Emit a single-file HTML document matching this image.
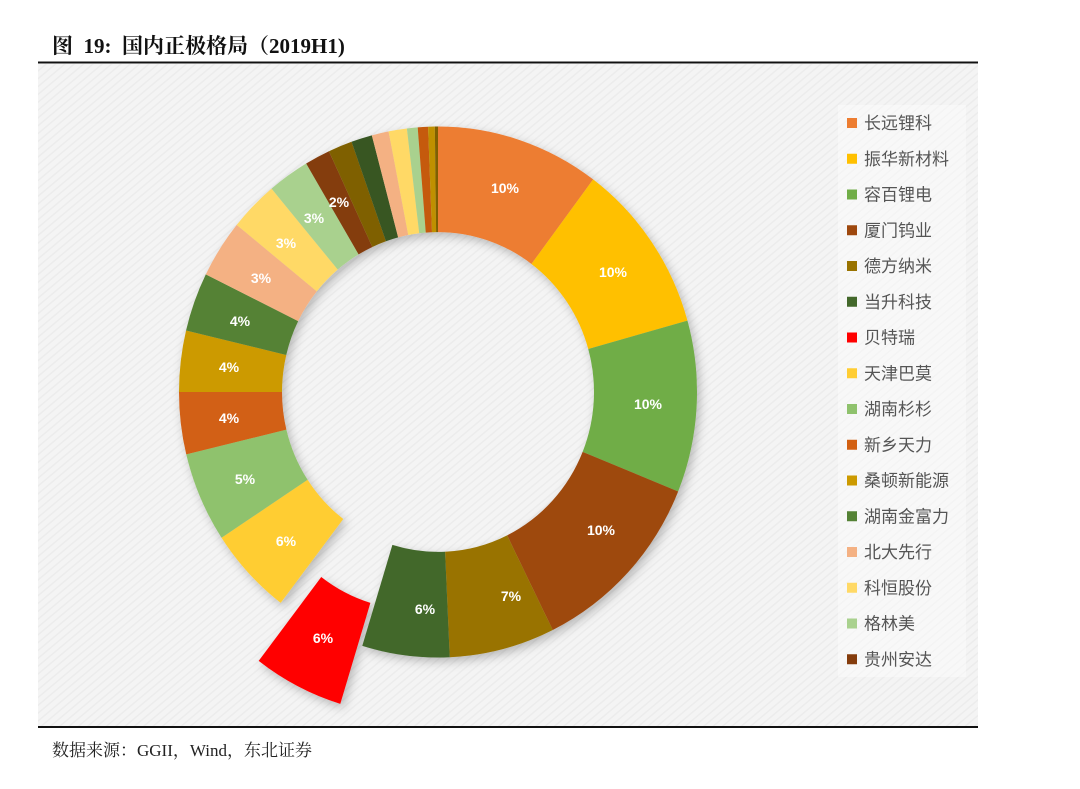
<!DOCTYPE html>
<html><head><meta charset="utf-8"><style>
body{margin:0;background:#fff;width:1080px;height:789px;overflow:hidden;position:relative;font-family:"Liberation Serif","Noto Serif CJK SC",serif}
.t{position:absolute;left:52px;top:30px;font-size:21px;font-weight:bold;color:#111;white-space:pre}
.s{position:absolute;left:52px;top:736px;font-size:17px;color:#222;white-space:pre}
svg{position:absolute;left:0;top:0}
</style></head><body>
<div class="t">图  19:  国内正极格局（2019H1)</div>
<svg width="1080" height="789" viewBox="0 0 1080 789">
<defs>
<pattern id="st" width="6" height="6" patternUnits="userSpaceOnUse" patternTransform="rotate(-40)">
<rect width="6" height="6" fill="#f4f4f4"/><rect width="6" height="1.5" fill="#ececec"/></pattern>
<filter id="sh" x="-20%" y="-20%" width="140%" height="140%"><feDropShadow dx="3" dy="4" stdDeviation="5" flood-opacity="0.25"/></filter>
</defs>
<line x1="38" y1="62.5" x2="978" y2="62.5" stroke="#111" stroke-width="2"/>
<rect x="38" y="64" width="940" height="662" fill="url(#st)"/>
<line x1="38" y1="727" x2="978" y2="727" stroke="#111" stroke-width="2"/>
<g id="donut" filter="url(#sh)"></g>
<g font-family="Liberation Sans,sans-serif" font-weight="bold" font-size="14" fill="#fff" text-anchor="middle">
<text x="505" y="193">10%</text><text x="613" y="277">10%</text><text x="648" y="409">10%</text>
<text x="601" y="535">10%</text><text x="511" y="601">7%</text><text x="425" y="614">6%</text>
<text x="323" y="643">6%</text><text x="286" y="546">6%</text><text x="245" y="484">5%</text>
<text x="229" y="423">4%</text><text x="229" y="372">4%</text><text x="240" y="326">4%</text>
<text x="261" y="283">3%</text><text x="286" y="248">3%</text><text x="314" y="223">3%</text><text x="339" y="207">2%</text>
</g>
<rect x="838" y="105" width="128" height="572" fill="#fafafa" opacity="0.6"/>
<g id="leg" font-family="Liberation Sans,Noto Sans CJK SC,sans-serif" font-size="17" fill="#555"></g>
</svg>
<div class="s">数据来源：GGII，Wind，东北证券</div>
<script>
var d=[["#ED7D31","长远锂科"],["#FFC000","振华新材料"],["#70AD47","容百锂电"],["#9E480E","厦门钨业"],["#997300","德方纳米"],["#43682B","当升科技"],["#FF0000","贝特瑞"],["#FFCD33","天津巴莫"],["#8FC26D","湖南杉杉"],["#D26012","新乡天力"],["#CC9A00","桑顿新能源"],["#548235","湖南金富力"],["#F4B183","北大先行"],["#FFD966","科恒股份"],["#A9D18E","格林美"],["#843C0C","贵州安达"],["#7F6000"],["#375623"],["#F4B183"],["#FFD966"],["#A9D18E"],["#C55A11"],["#BF9000"],["#7F6000"]];
var A=[0,36.8,74.4,112,153.7,177.4,197,217.4,236.7,256.4,270,283.4,296.3,309,320,329.4,335.1,340.5,345.2,349,353.1,355.5,357.8,359.3,360];
var cx=438,cy=392,R=259,r=156,sy=1.025,g=document.getElementById('donut'),h='';
function p(ang,rad,ox,oy){var t=ang*Math.PI/180;return (cx+ox+rad*Math.sin(t)).toFixed(2)+","+(cy+oy-rad*Math.cos(t)*sy).toFixed(2)}
d.forEach(function(x,i){var a=A[i],b=A[i+1],ox=0,oy=0;
if(i==6){ox=-22;oy=58}
h+='<path fill="'+x[0]+'" d="M'+p(a,R,ox,oy)+' A'+R+','+(R*sy)+' 0 0 1 '+p(b,R,ox,oy)+' L'+p(b,r,ox,oy)+' A'+r+','+(r*sy)+' 0 0 0 '+p(a,r,ox,oy)+'Z"/>';});
g.innerHTML=h;
var lg='';for(var i=0;i<16;i++){var y=123+i*35.75;lg+='<rect x="847" y="'+(y-5)+'" width="10" height="10" fill="'+d[i][0]+'"/><text x="864" y="'+(y+6)+'">'+d[i][1]+'</text>';}
document.getElementById('leg').innerHTML=lg;
</script>
</body></html>
